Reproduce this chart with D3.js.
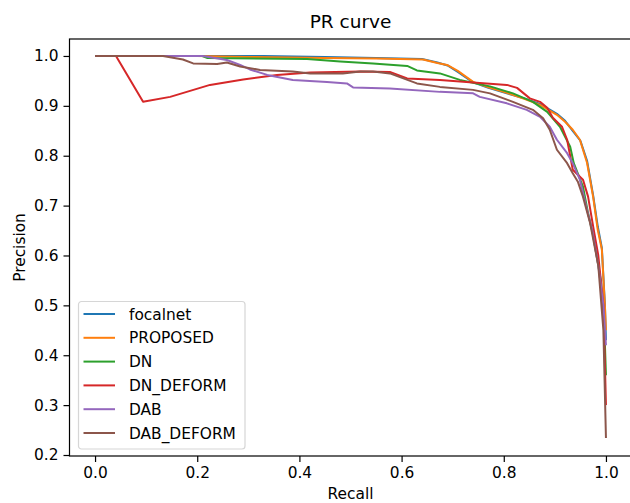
<!DOCTYPE html>
<html>
<head>
<meta charset="utf-8">
<script src="https://cdn.jsdelivr.net/npm/d3@7"></script>
<style>
  body { margin: 0; background: #fff; }
  svg { display: block; font-family: "DejaVu Sans", sans-serif; }
</style>
</head>
<body>
<div class="vis"></div>
<script>
// series names and colours (matplotlib tab10 order)
const seriesNames = ["focalnet", "PROPOSED", "DN", "DN_DEFORM", "DAB", "DAB_DEFORM"];
const seriesColors = ["#1f77b4", "#ff7f0e", "#2ca02c", "#d62728", "#9467bd", "#8c564b"];

// [recall, precision] pairs
const focalnet = [
  [0, 1], [0.33, 1.0], [0.45, 0.998], [0.55, 0.996], [0.64, 0.994], [0.67, 0.987], [0.69, 0.981],
  [0.71, 0.968], [0.74, 0.947], [0.77, 0.936], [0.806, 0.925], [0.84, 0.915], [0.871, 0.904],
  [0.904, 0.884], [0.92, 0.87], [0.935, 0.85], [0.95, 0.83], [0.963, 0.79], [0.975, 0.72],
  [0.984, 0.658], [0.992, 0.615], [0.998, 0.5], [1.0, 0.43]
];
const proposed = [
  [0, 1], [0.2, 1.0], [0.3, 0.998], [0.45, 0.996], [0.55, 0.995], [0.642, 0.993], [0.67, 0.986],
  [0.689, 0.982], [0.71, 0.97], [0.74, 0.948], [0.77, 0.937], [0.806, 0.926], [0.84, 0.914],
  [0.871, 0.902], [0.904, 0.882], [0.92, 0.868], [0.935, 0.852], [0.949, 0.832], [0.963, 0.786],
  [0.975, 0.717], [0.984, 0.651], [0.992, 0.612], [0.998, 0.497], [1.0, 0.45]
];
const dn = [
  [0, 1], [0.21, 1.0], [0.22, 0.996], [0.415, 0.994], [0.48, 0.989], [0.544, 0.985], [0.611, 0.98],
  [0.63, 0.971], [0.675, 0.965], [0.714, 0.952], [0.773, 0.939], [0.818, 0.925], [0.857, 0.908],
  [0.885, 0.888], [0.91, 0.858], [0.93, 0.818], [0.937, 0.785], [0.955, 0.738], [0.965, 0.685],
  [0.975, 0.64], [0.99, 0.55], [0.997, 0.45], [1.0, 0.36]
];
const dnDeform = [
  [0, 1], [0.041, 1.0], [0.094, 0.908], [0.147, 0.918], [0.225, 0.942], [0.29, 0.953], [0.356, 0.962],
  [0.421, 0.967], [0.519, 0.969], [0.577, 0.968], [0.611, 0.955], [0.675, 0.952], [0.74, 0.947],
  [0.806, 0.942], [0.826, 0.936], [0.851, 0.915], [0.871, 0.908], [0.885, 0.896], [0.896, 0.876],
  [0.914, 0.858], [0.924, 0.832], [0.935, 0.772], [0.955, 0.752], [0.965, 0.718], [0.975, 0.658],
  [0.985, 0.6], [0.995, 0.5], [1.0, 0.3]
];
const dab = [
  [0, 1], [0.211, 1.0], [0.258, 0.992], [0.284, 0.982], [0.303, 0.973], [0.337, 0.962], [0.387, 0.952],
  [0.454, 0.948], [0.493, 0.945], [0.505, 0.937], [0.577, 0.935], [0.675, 0.928], [0.74, 0.925],
  [0.753, 0.918], [0.806, 0.905], [0.845, 0.892], [0.871, 0.878], [0.89, 0.858], [0.904, 0.832],
  [0.924, 0.805], [0.935, 0.785], [0.949, 0.752], [0.963, 0.691], [0.973, 0.651], [0.985, 0.58],
  [0.995, 0.5], [1.0, 0.42]
];
const dabDeform = [
  [0, 1], [0.133, 1.0], [0.172, 0.993], [0.192, 0.985], [0.239, 0.984], [0.258, 0.987], [0.284, 0.979],
  [0.323, 0.972], [0.387, 0.969], [0.421, 0.965], [0.485, 0.965], [0.519, 0.969], [0.544, 0.969],
  [0.577, 0.965], [0.63, 0.945], [0.675, 0.938], [0.74, 0.932], [0.773, 0.925], [0.818, 0.908],
  [0.857, 0.892], [0.877, 0.875], [0.89, 0.852], [0.904, 0.812], [0.924, 0.785], [0.935, 0.765],
  [0.945, 0.748], [0.955, 0.718], [0.969, 0.665], [0.985, 0.58], [0.995, 0.45], [1.0, 0.234]
];
const seriesData = [focalnet, proposed, dn, dnDeform, dab, dabDeform];

const xTicks = [0, 0.2, 0.4, 0.6, 0.8, 1.0];
const yTicks = [0.2, 0.3, 0.4, 0.5, 0.6, 0.7, 0.8, 0.9, 1.0];

const W = 630, H = 503;
const plotLeft = 69.5, plotRight = 631.5, plotTop = 39, plotBottom = 456;
const fontSize = 15.4;

const svg = d3.select(".vis")
  .append("svg")
  .attr("width", W)
  .attr("height", H);

const xScale = d3.scaleLinear().domain([-0.05, 1.05]).range([plotLeft, plotRight]);
const yScale = d3.scaleLinear().domain([0.198, 1.034]).range([plotBottom, plotTop]);

// lines
const line = d3.line()
  .x(d => xScale(d[0]))
  .y(d => yScale(d[1]));

const plot = svg.append("g");
seriesData.forEach((s, i) => {
  plot.append("path")
    .datum(s)
    .attr("fill", "none")
    .attr("stroke", seriesColors[i])
    .attr("stroke-width", 2)
    .attr("stroke-linejoin", "round")
    .attr("d", line);
});

// axes
const xAxis = svg.append("g")
  .attr("transform", "translate(0," + plotBottom + ")")
  .call(d3.axisBottom(xScale).tickValues(xTicks).tickFormat(d3.format(".1f"))
    .tickSize(6).tickPadding(5).tickSizeOuter(0));

const yAxis = svg.append("g")
  .attr("transform", "translate(" + plotLeft + ",0)")
  .call(d3.axisLeft(yScale).tickValues(yTicks).tickFormat(d3.format(".1f"))
    .tickSize(6).tickPadding(5).tickSizeOuter(0));

[xAxis, yAxis].forEach(a => {
  a.select(".domain").remove();
  a.selectAll("line").attr("stroke", "#000").attr("stroke-width", 1.2);
  a.selectAll("text").attr("fill", "#000").style("font-size", fontSize + "px")
    .style("font-family", "DejaVu Sans");
});

// frame
svg.append("rect")
  .attr("x", plotLeft)
  .attr("y", plotTop)
  .attr("width", plotRight - plotLeft)
  .attr("height", plotBottom - plotTop)
  .attr("fill", "none")
  .attr("stroke", "#000")
  .attr("stroke-width", 1.2);

// title and axis labels
svg.append("text")
  .attr("x", (plotLeft + plotRight) / 2)
  .attr("y", 28)
  .attr("text-anchor", "middle")
  .style("font-size", "18.5px")
  .text("PR curve");

svg.append("text")
  .attr("x", (plotLeft + plotRight) / 2)
  .attr("y", 499)
  .attr("text-anchor", "middle")
  .style("font-size", fontSize + "px")
  .text("Recall");

svg.append("text")
  .attr("transform", "translate(25," + ((plotTop + plotBottom) / 2) + ") rotate(-90)")
  .attr("text-anchor", "middle")
  .style("font-size", fontSize + "px")
  .text("Precision");

// legend
const lg = svg.append("g").attr("transform", "translate(78.5,301.5)");
lg.append("rect")
  .attr("width", 166.5)
  .attr("height", 147.5)
  .attr("rx", 3)
  .attr("fill", "#fff")
  .attr("fill-opacity", 0.8)
  .attr("stroke", "#d6d6d6")
  .attr("stroke-width", 1.2);

seriesNames.forEach((name, i) => {
  const yy = 12.5 + i * 23.8;
  lg.append("line")
    .attr("x1", 5).attr("x2", 36.5)
    .attr("y1", yy).attr("y2", yy)
    .attr("stroke", seriesColors[i])
    .attr("stroke-width", 2);
  lg.append("text")
    .attr("x", 50.5)
    .attr("y", yy)
    .attr("dy", "0.36em")
    .style("font-size", fontSize + "px")
    .text(name);
});
</script>
</body>
</html>
